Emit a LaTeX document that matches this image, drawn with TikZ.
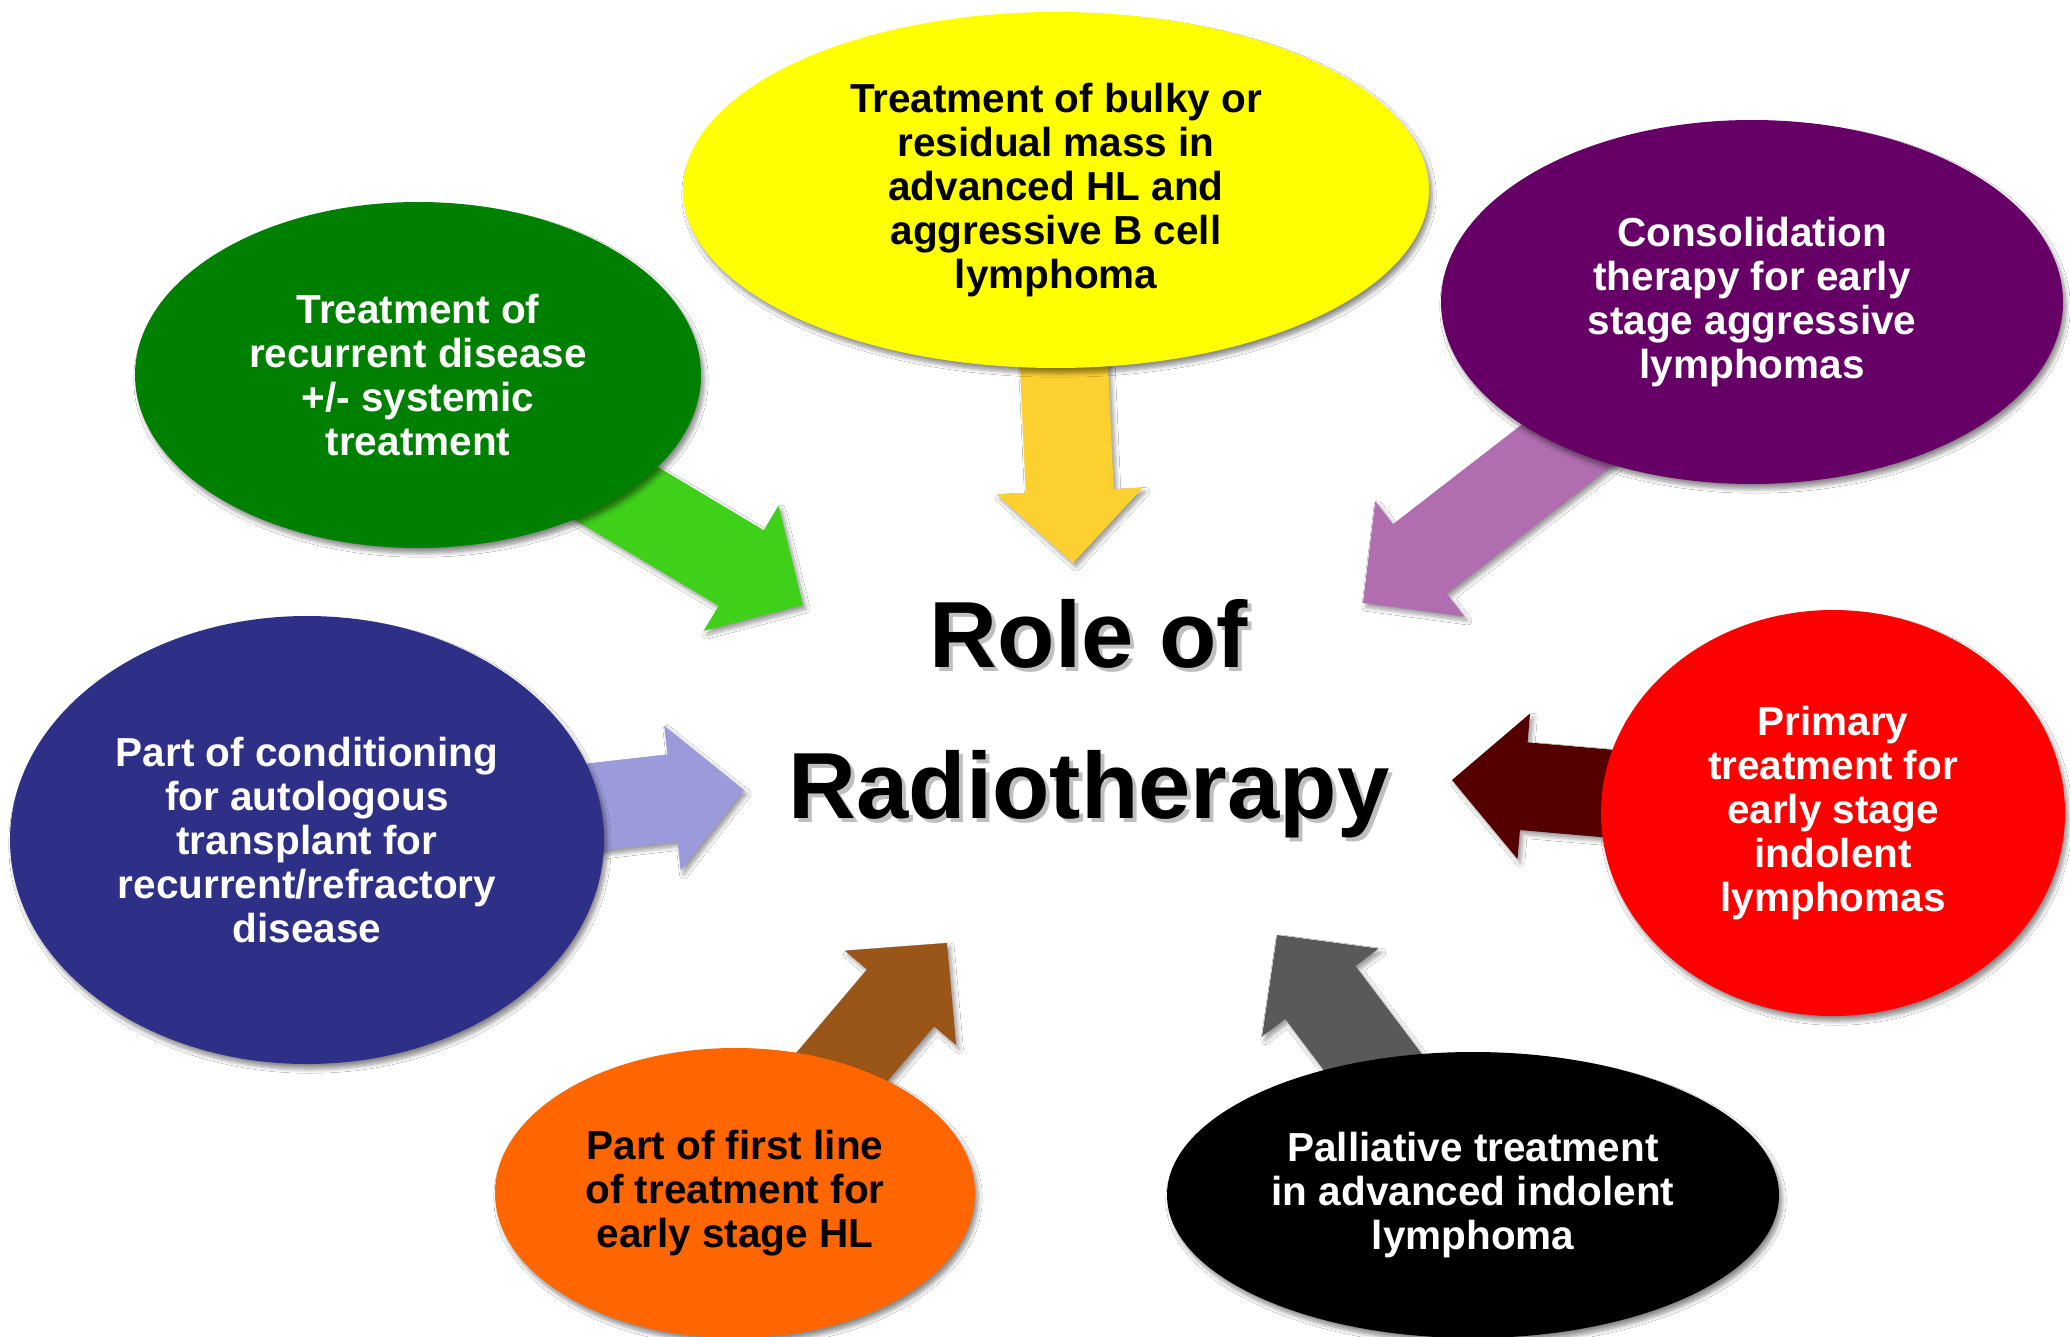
\documentclass[tikz,border=0pt]{standalone}
\usepackage{fontspec}
\setmainfont{Liberation Sans}
\usetikzlibrary{calc,shapes.geometric,shadows.blur}
\pgfdeclarelayer{background}
\pgfsetlayers{background,main}

\definecolor{bulkyfill}{HTML}{FFFF00}
\definecolor{consolfill}{HTML}{660066}
\definecolor{recurfill}{HTML}{008000}
\definecolor{conditfill}{HTML}{2E3087}
\definecolor{primfill}{HTML}{FF0000}
\definecolor{firstfill}{HTML}{FF6600}
\definecolor{pallfill}{HTML}{000000}

\definecolor{bulkyarrow}{HTML}{FCD12F}
\definecolor{consolarrow}{HTML}{B06DB0}
\definecolor{recurarrow}{HTML}{3FD11A}
\definecolor{conditarrow}{HTML}{9B9BDC}
\definecolor{primarrow}{HTML}{550000}
\definecolor{firstarrow}{HTML}{9A5518}
\definecolor{pallarrow}{HTML}{595959}

\tikzset{
  bubble/.style={ellipse, inner sep=0pt, align=center,
    font=\bfseries\fontsize{20.25pt}{22pt}\selectfont,
    blur shadow={shadow xshift=1.5pt, shadow yshift=-2.5pt,
      shadow blur steps=8, shadow opacity=45}},
  arrowshadow/.style={blur shadow={shadow xshift=1.5pt,
      shadow yshift=-2pt, shadow blur steps=6, shadow opacity=40}},
  title/.style={font=\bfseries\fontsize{47pt}{47pt}\selectfont,
    inner sep=0pt, anchor=base},
}

% fat block arrow: colour, from node, to tip coordinate
\newcommand{\flowarrow}[3]{%
  \coordinate (hb) at ($(#3)!36pt!(#2.center)$);
  \fill[#1, arrowshadow]
    ($(#2.center)!22pt!90:(#3)$) -- ($(hb)!22pt!90:(#3)$)
    -- ($(hb)!36.5pt!90:(#3)$) -- (#3)
    -- ($(hb)!36.5pt!-90:(#3)$) -- ($(hb)!22pt!-90:(#3)$)
    -- ($(#2.center)!22pt!-90:(#3)$) -- cycle;
}

\begin{document}
\begin{tikzpicture}[x=0.5pt,y=-0.5pt]
  \useasboundingbox (0,0) rectangle (2070,1337);

  % ellipses around the heading
  \node[bubble, fill=bulkyfill, minimum width=373pt, minimum height=178pt]
    (bulky) at (1056,190) {Treatment of bulky or\\residual mass in\\advanced HL and\\aggressive B cell\\lymphoma};
  \node[bubble, fill=consolfill, text=white, minimum width=311pt, minimum height=182pt]
    (consol) at (1752,302) {Consolidation\\therapy for early\\stage aggressive\\lymphomas};
  \node[bubble, fill=recurfill, text=white, minimum width=283pt, minimum height=173pt]
    (recur) at (418,375) {Treatment of\\recurrent disease\\+/- systemic\\treatment};
  \node[bubble, fill=conditfill, text=white, minimum width=297pt, minimum height=224pt]
    (condit) at (307,840) {Part of conditioning\\for autologous\\transplant for\\recurrent/refractory\\disease};
  \node[bubble, fill=primfill, text=white, minimum width=232pt, minimum height=203pt]
    (prim) at (1833,813) {Primary\\treatment for\\early stage\\indolent\\lymphomas};
  \node[bubble, fill=firstfill, minimum width=240pt, minimum height=145pt]
    (first) at (735,1193) {Part of first line\\of treatment for\\early stage HL};
  \node[bubble, fill=pallfill, text=white, minimum width=306pt, minimum height=143pt]
    (pall) at (1473,1195) {Palliative treatment\\in advanced indolent\\lymphoma};

  % arrow tips
  \coordinate (t-bulky) at (1073,563);
  \coordinate (t-consol) at (1363,603);
  \coordinate (t-recur) at (803,605);
  \coordinate (t-condit) at (744,790);
  \coordinate (t-prim) at (1452,780);
  \coordinate (t-first) at (947,943);
  \coordinate (t-pall) at (1277,935);

  \begin{pgfonlayer}{background}
    \fill[white] (0,0) rectangle (2070,1337);
    \flowarrow{bulkyarrow}{bulky}{t-bulky}
    \flowarrow{consolarrow}{consol}{t-consol}
    \flowarrow{recurarrow}{recur}{t-recur}
    \flowarrow{conditarrow}{condit}{t-condit}
    \flowarrow{primarrow}{prim}{t-prim}
    \flowarrow{firstarrow}{first}{t-first}
    \flowarrow{pallarrow}{pall}{t-pall}
  \end{pgfonlayer}

  % heading with its soft shadow
  \node[title, text=black, opacity=.25] at (1093,671) {Role of};
  \node[title, text=black, opacity=.25] at (1093,822) {Radiotherapy};
  \node[title] (role) at (1089,667) {Role of};
  \node[title] (radio) at (1089,818) {Radiotherapy};
\end{tikzpicture}
\end{document}
